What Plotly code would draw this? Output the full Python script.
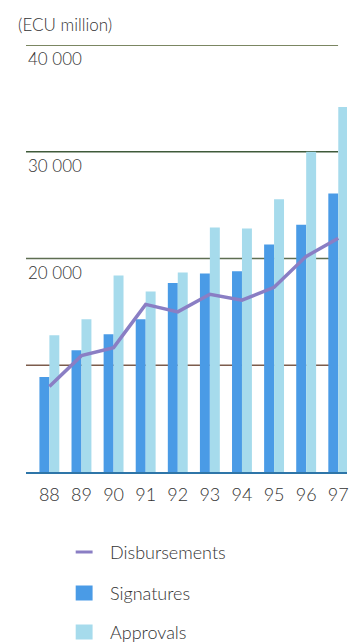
import plotly.graph_objects as go

# Annual lending activity, ECU million
years = ["88", "89", "90", "91", "92", "93", "94", "95", "96", "97"]
signatures = [8900, 11400, 12900, 14300, 17700, 18600, 18800, 21300, 23150, 26100]
approvals = [12800, 14300, 18400, 16900, 18700, 22900, 22800, 25550, 30000, 34200]
disbursements = [8000, 10900, 11650, 15700, 15000, 16650, 16100, 17300, 20200, 21900]

y_ticks = [10000, 20000, 30000, 40000]
y_tick_labels = ["", "20 000", "30 000", "40 000"]
grid_colors = ["#7c5c4c", "#5e6e52", "#3f5a3a", "#4f5e2e"]

FONT = "Lato, 'Open Sans', sans-serif"
WEIGHT = 300
TEXT = "#333333"
SIG_COLOR = "#4a9be6"
APP_COLOR = "#a6dbec"
DISB_COLOR = "#8a7ec4"

W, H = 349, 644
M_L, M_R, M_T, M_B = 26, 0, 45, 172
plot_h = H - M_T - M_B


def py(pix):
    """Pixel row -> paper y coordinate."""
    return (H - M_B - pix) / plot_h


def px(pix):
    """Pixel column -> paper x coordinate."""
    return (pix - M_L) / (W - M_L - M_R)


def font(size):
    return dict(family=FONT, size=size, color=TEXT, weight=WEIGHT)


fig = go.Figure()
fig.add_bar(x=years, y=signatures, name="Signatures",
            marker=dict(color=SIG_COLOR, line=dict(width=0)))
fig.add_bar(x=years, y=approvals, name="Approvals",
            marker=dict(color=APP_COLOR, line=dict(width=0)))
fig.add_scatter(x=years, y=disbursements, name="Disbursements", mode="lines",
                line=dict(color=DISB_COLOR, width=3.5))

shapes = []
annotations = []

# horizontal rules at each tick, drawn beneath the bars
for val, col in zip(y_ticks, grid_colors):
    shapes.append(dict(type="line", xref="paper", yref="y", x0=0, x1=px(340),
                       y0=val, y1=val, line=dict(color=col, width=1.5),
                       layer="below"))
for val, lab in zip(y_ticks, y_tick_labels):
    if lab:
        annotations.append(dict(text=lab, xref="paper", yref="y", x=0, y=val,
                                xanchor="left", yanchor="top", yshift=-1,
                                showarrow=False, font=font(17)))

annotations.append(dict(text="(ECU million)", xref="paper", yref="paper",
                        x=px(16), y=py(25), xanchor="left", yanchor="middle",
                        showarrow=False, font=font(17)))

# legend
leg_items = [("Disbursements", "line", DISB_COLOR, 552),
             ("Signatures", "rect", SIG_COLOR, 593),
             ("Approvals", "rect", APP_COLOR, 632)]
for label, kind, col, yc in leg_items:
    if kind == "line":
        shapes.append(dict(type="line", xref="paper", yref="paper",
                           x0=px(76), x1=px(93), y0=py(yc), y1=py(yc),
                           line=dict(color=col, width=3)))
    else:
        shapes.append(dict(type="rect", xref="paper", yref="paper",
                           x0=px(76), x1=px(93), y0=py(yc - 7.5), y1=py(yc + 7.5),
                           fillcolor=col, line=dict(width=0)))
    annotations.append(dict(text=label, xref="paper", yref="paper",
                            x=px(109), y=py(yc), xanchor="left", yanchor="middle",
                            showarrow=False, font=font(18)))

fig.update_layout(
    width=W, height=H,
    margin=dict(l=M_L, r=M_R, t=M_T, b=M_B),
    paper_bgcolor="white", plot_bgcolor="white",
    barmode="group", bargap=0.38, bargroupgap=0,
    showlegend=False,
    shapes=shapes, annotations=annotations,
    xaxis=dict(type="category", range=[-0.728, 9.272], showgrid=False,
               showline=True, linecolor="#2e75a8", linewidth=2,
               ticks="", ticklabelstandoff=5, tickfont=font(18),
               fixedrange=True),
    yaxis=dict(range=[0, 40000], showgrid=False, zeroline=False,
               showticklabels=False, showline=False, fixedrange=True),
)

fig.write_html("out.html")
